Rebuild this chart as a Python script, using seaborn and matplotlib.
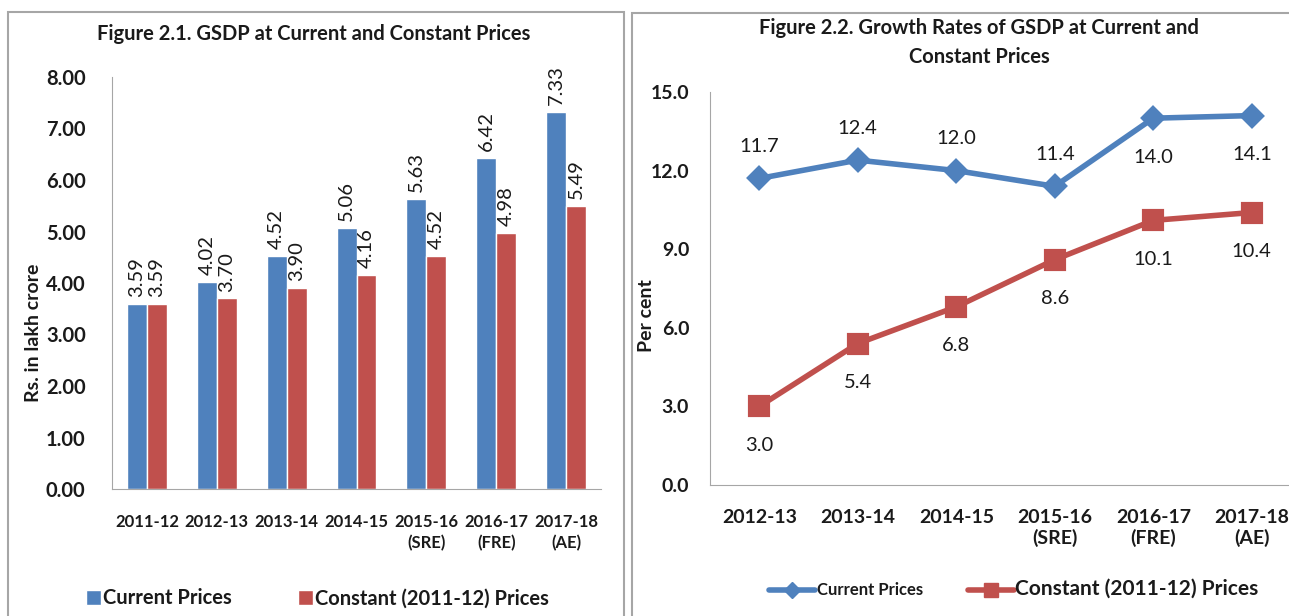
import matplotlib.pyplot as plt
import seaborn as sns
import pandas as pd
from matplotlib.patches import Rectangle
from matplotlib.lines import Line2D
from matplotlib.ticker import FormatStrFormatter, FixedLocator

years1 = ['2011-12', '2012-13', '2013-14', '2014-15', '2015-16\n(SRE)', '2016-17\n(FRE)', '2017-18\n(AE)']
gsdp_current = [3.59, 4.02, 4.52, 5.06, 5.63, 6.42, 7.33]
gsdp_constant = [3.59, 3.70, 3.90, 4.16, 4.52, 4.98, 5.49]

years2 = ['2012-13', '2013-14', '2014-15', '2015-16\n(SRE)', '2016-17\n(FRE)', '2017-18\n(AE)']
growth_current = [11.7, 12.4, 12.0, 11.4, 14.0, 14.1]
growth_constant = [3.0, 5.4, 6.8, 8.6, 10.1, 10.4]

series = ['Current Prices', 'Constant (2011-12) Prices']
blue = '#4F81BD'
red = '#C0504D'

sns.set_style('white')
plt.rcParams['font.family'] = ['Lato', 'DejaVu Sans']
plt.rcParams['text.color'] = '#1a1a1a'
plt.rcParams['axes.labelcolor'] = '#1a1a1a'
plt.rcParams['xtick.color'] = '#1a1a1a'
plt.rcParams['ytick.color'] = '#1a1a1a'

df1 = pd.DataFrame({
    'Year': years1 * 2,
    'Series': [series[0]] * len(years1) + [series[1]] * len(years1),
    'Value': gsdp_current + gsdp_constant,
})

fig = plt.figure(figsize=(12.89, 6.16), dpi=100)

# panel borders
fig.add_artist(Rectangle((8 / 1289, -0.05), (624 - 8) / 1289, 1.05 - 12 / 616,
                         transform=fig.transFigure, fill=False, ec='#A6A6A6', lw=1.5))
fig.add_artist(Rectangle((632 / 1289, -0.05), 0.6, 1.05 - 13 / 616,
                         transform=fig.transFigure, fill=False, ec='#A6A6A6', lw=1.5))

# ---- left chart: bars
ax1 = fig.add_axes([112 / 1289, 1 - 489 / 616, 489 / 1289, 412 / 616])
sns.barplot(data=df1, x='Year', y='Value', hue='Series', palette=[blue, red],
            width=0.57, saturation=1, ax=ax1)
for cont in ax1.containers:
    ax1.bar_label(cont, fmt='%.2f', rotation=90, padding=5, fontsize=14.5)
ax1.set_ylim(0, 8)
ax1.set_yticks(range(0, 9))
ax1.yaxis.set_major_formatter(FormatStrFormatter('%.2f'))
ax1.set_xlim(-0.5, 6.5)
ax1.xaxis.set_minor_locator(FixedLocator([i - 0.5 for i in range(8)]))
ax1.tick_params(axis='x', which='major', length=0, labelsize=12, pad=18)
ax1.tick_params(axis='x', which='minor', length=7, width=1, color='#A6A6A6', direction='out')
ax1.tick_params(axis='y', length=5, color='#A6A6A6', direction='out', labelsize=14.5, pad=14)
for lab in ax1.get_xticklabels():
    lab.set_fontweight('bold')
    lab.set_linespacing(1.35)
for lab in ax1.get_yticklabels():
    lab.set_fontweight('bold')
sns.despine(ax=ax1)
ax1.spines['left'].set_color('#A6A6A6')
ax1.spines['bottom'].set_color('#A6A6A6')
ax1.set_xlabel('')
ax1.set_ylabel('Rs. in lakh crore', fontsize=14, fontweight='bold')
ax1.yaxis.set_label_coords(-0.143, 0.38)
ax1.set_title('Figure 2.1. GSDP at Current and Constant Prices', fontsize=14.5,
              fontweight='bold', pad=27, x=0.413)
sns.move_legend(ax1, 'center', bbox_to_anchor=(0.42, -0.265), ncol=2, frameon=False,
                title=None, fontsize=14.5, handlelength=0.75, handleheight=0.75,
                handletextpad=0.1, columnspacing=3.3)
for t in ax1.get_legend().get_texts():
    t.set_fontweight('bold')

# ---- right chart: lines
ax2 = fig.add_axes([710 / 1289, 1 - 485 / 616, 591 / 1289, 393 / 616])
sns.pointplot(x=years2, y=growth_current, color=blue, marker='D', markersize=10,
              linewidth=4, ax=ax2)
sns.pointplot(x=years2, y=growth_constant, color=red, marker='s', markersize=13,
              linewidth=4, ax=ax2)
cur_off = [23, 23, 23, 23, -28, -28]
for i, v in enumerate(growth_current):
    ax2.annotate(f'{v:.1f}', (i, v), xytext=(0, cur_off[i]), textcoords='offset points',
                 ha='center', va='center', fontsize=14.5)
for i, v in enumerate(growth_constant):
    ax2.annotate(f'{v:.1f}', (i, v), xytext=(0, -28), textcoords='offset points',
                 ha='center', va='center', fontsize=14.5)
ax2.set_ylim(0, 15)
ax2.set_yticks([0, 3, 6, 9, 12, 15])
ax2.yaxis.set_major_formatter(FormatStrFormatter('%.1f'))
ax2.set_xlim(-0.5, 5.5)
ax2.xaxis.set_minor_locator(FixedLocator([i - 0.5 for i in range(7)]))
ax2.tick_params(axis='x', which='major', length=0, labelsize=14, pad=17)
ax2.tick_params(axis='x', which='minor', length=7, width=1, color='#A6A6A6', direction='out')
ax2.tick_params(axis='y', length=5, color='#A6A6A6', direction='out', labelsize=14, pad=10)
for lab in ax2.get_xticklabels() + ax2.get_yticklabels():
    lab.set_fontweight('bold')
sns.despine(ax=ax2)
ax2.spines['left'].set_color('#A6A6A6')
ax2.spines['bottom'].set_color('#A6A6A6')
ax2.set_ylabel('Per cent', fontsize=14, fontweight='bold')
ax2.yaxis.set_label_coords(-0.093, 0.43)
ax2.set_title('Figure 2.2. Growth Rates of GSDP at Current and\nConstant Prices',
              fontsize=14.5, fontweight='bold', pad=21, linespacing=1.55, x=0.455)
handles = [Line2D([], [], color=blue, lw=4, marker='D', markersize=8),
           Line2D([], [], color=red, lw=4, marker='s', markersize=10)]
leg = ax2.legend(handles, series, loc='center', bbox_to_anchor=(0.514, -0.265), ncol=2,
                 frameon=False, handlelength=3.3, handletextpad=0.1, columnspacing=3.25)
leg.get_texts()[0].set_fontsize(12)
leg.get_texts()[1].set_fontsize(15)
for t in leg.get_texts():
    t.set_fontweight('bold')

fig.savefig('out.png', dpi=100)
